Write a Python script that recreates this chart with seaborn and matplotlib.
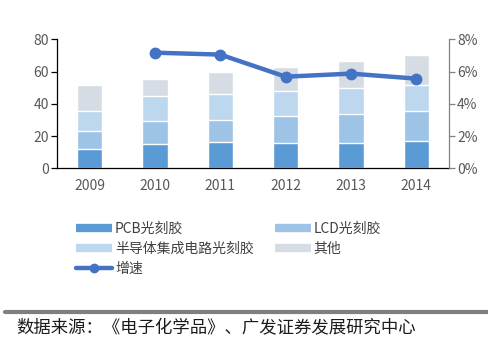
import numpy as np
import pandas as pd
import seaborn as sns
import matplotlib
matplotlib.use("Agg")
import matplotlib.pyplot as plt
from matplotlib.lines import Line2D

years = ["2009", "2010", "2011", "2012", "2013", "2014"]
pcb = [12.0, 15.1, 16.3, 15.7, 15.7, 16.9]
lcd = [11.1, 14.2, 13.9, 16.7, 18.0, 18.6]
semi = [12.4, 15.5, 15.9, 15.5, 16.1, 16.0]
other = [16.2, 10.6, 13.4, 14.9, 16.7, 18.7]
growth = [np.nan, 7.17, 7.05, 5.68, 5.87, 5.56]

series_names = ["PCB光刻胶", "LCD光刻胶", "半导体集成电路光刻胶", "其他"]
colors = ["#5B9BD5", "#9DC3E6", "#BDD7EE", "#D6DCE4"]
line_color = "#4472C4"

sns.set_theme(style="white")
plt.rcParams['font.family'] = ['Noto Sans CJK SC', 'DejaVu Sans']

fig = plt.figure(figsize=(4.89, 3.41), dpi=100)
ax = fig.add_axes([0.1166, 0.5065, 0.8014, 0.3783])

df = pd.DataFrame({"year": years, "pcb": pcb, "lcd": lcd, "semi": semi, "other": other})
layers = [df["pcb"], df["lcd"], df["semi"], df["other"]]
cum = np.cumsum(np.array(layers), axis=0)
for i in range(3, -1, -1):
    sns.barplot(x=df["year"], y=cum[i], color=colors[i], width=0.39,
                saturation=1, ax=ax, order=years)

ax.set_ylim(0, 80)
ax.set_yticks([0, 20, 40, 60, 80])
ax.set_xlim(-0.5, 5.5)
ax.set_xlabel("")
ax.set_ylabel("")
for s in ["top", "right"]:
    ax.spines[s].set_visible(False)
ax.spines["left"].set_color("black")
ax.spines["bottom"].set_color("black")
ax.spines["left"].set_linewidth(0.9)
ax.spines["bottom"].set_linewidth(0.9)
ax.set_xticks(np.arange(6))
ax.set_xticklabels(years)
ax.set_xticks(np.arange(-0.5, 6.0, 1.0), minor=True)
ax.tick_params(axis="x", which="major", length=0, colors="#595959", labelsize=10, pad=8)
ax.tick_params(axis="x", which="minor", length=4, width=0.9, color="black", direction="out")
ax.tick_params(axis="y", length=4, width=0.9, color="black", direction="out",
               labelcolor="#595959", labelsize=10, pad=2)

ax2 = ax.twinx()
ax2.plot(np.arange(6), growth, color=line_color, lw=3.2, marker="o", ms=7.5, zorder=5)
ax2.set_ylim(0, 8)
ax2.set_yticks([0, 2, 4, 6, 8])
ax2.set_yticklabels(["0%", "2%", "4%", "6%", "8%"])
for s in ["top", "left", "bottom"]:
    ax2.spines[s].set_visible(False)
ax2.spines["right"].set_color("#808080")
ax2.spines["right"].set_linewidth(0.9)
ax2.tick_params(axis="y", length=4, width=0.9, color="#808080", direction="out",
                labelcolor="#595959", labelsize=10, pad=2)
ax2.grid(False)
ax.grid(False)

handles = [
    Line2D([0], [0], color=colors[0], lw=6, solid_capstyle="butt"),
    Line2D([0], [0], color=colors[2], lw=6, solid_capstyle="butt"),
    Line2D([0], [0], color=line_color, lw=3.2, marker="o", ms=6),
    Line2D([0], [0], color=colors[1], lw=6, solid_capstyle="butt"),
    Line2D([0], [0], color=colors[3], lw=6, solid_capstyle="butt"),
]
labels = [series_names[0], series_names[2], "增速", series_names[1], series_names[3]]
leg = fig.legend(handles, labels, ncol=2, loc="upper left", bbox_to_anchor=(0.13, 0.385),
                 frameon=False, fontsize=10, handlelength=2.6, handletextpad=0.2,
                 labelspacing=0.42, columnspacing=1.5)
for t in leg.get_texts():
    t.set_color("#404040")

fig.add_artist(Line2D([0.01, 1.0], [0.085, 0.085], color="#7F7F7F", lw=3,
                      transform=fig.transFigure))
fig.text(0.033, 0.038, "数据来源：《电子化学品》、广发证券发展研究中心", fontsize=12.5,
         color="#1a1a1a", ha="left", va="center", fontweight="medium")

fig.savefig("out.png", dpi=100)
